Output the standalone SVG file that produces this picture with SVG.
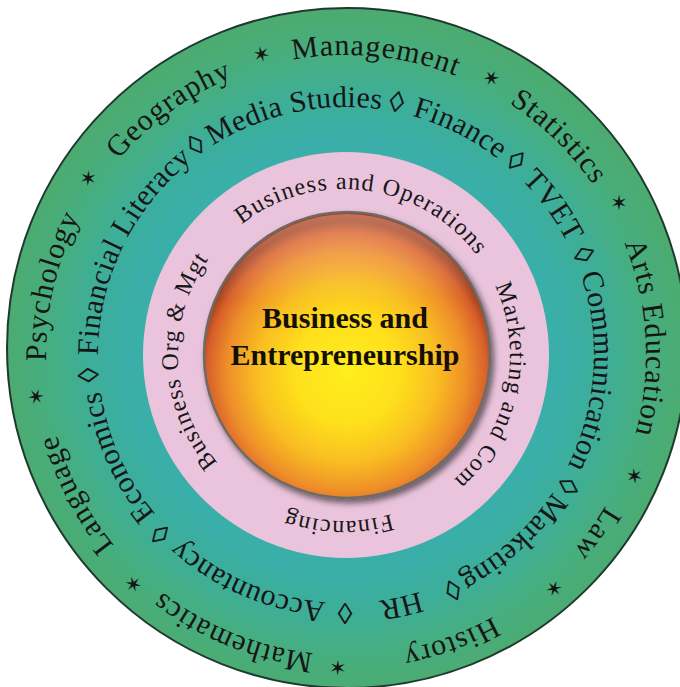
<svg xmlns="http://www.w3.org/2000/svg" xmlns:xlink="http://www.w3.org/1999/xlink" width="680" height="687" viewBox="0 0 680 687">
  <style>
    .ring { font-family: "Liberation Serif", "Times New Roman", serif; fill: #161616; }
    .big { font-size: 30px; letter-spacing: 1px; }
    .inner { font-size: 30px; letter-spacing: 0.3px; }
    .mid { font-size: 24px; letter-spacing: 1.2px; }
    .star { font-family: "DejaVu Sans", sans-serif; font-size: 21px; fill: #161616; }
    .core { font-family: "Liberation Serif", "Times New Roman", serif; font-weight: bold; font-size: 30px; fill: #141008; }
  </style>
  <defs>
    <radialGradient id="discFill" gradientUnits="userSpaceOnUse" cx="346" cy="355" r="340">
      <stop offset="0" stop-color="#3AAEAA"/>
      <stop offset="0.64" stop-color="#3AAEA8"/>
      <stop offset="0.76" stop-color="#3DAE98"/>
      <stop offset="0.88" stop-color="#46AE80"/>
      <stop offset="1" stop-color="#4CAB70"/>
    </radialGradient>
    <radialGradient id="sphereFill" gradientUnits="userSpaceOnUse" cx="347" cy="372" r="150">
      <stop offset="0" stop-color="#FFEE1C"/>
      <stop offset="0.35" stop-color="#FEE01C"/>
      <stop offset="0.6" stop-color="#F9BE22"/>
      <stop offset="0.8" stop-color="#EE8E2A"/>
      <stop offset="0.93" stop-color="#D8602A"/>
      <stop offset="1" stop-color="#9E4020"/>
    </radialGradient>
    <linearGradient id="sphereSheen" x1="0" y1="0" x2="0" y2="1">
      <stop offset="0" stop-color="#FFD0C0" stop-opacity="0.35"/>
      <stop offset="0.3" stop-color="#FFFFFF" stop-opacity="0"/>
    </linearGradient>
    <filter id="sphereShadow" x="-20%" y="-20%" width="140%" height="140%">
      <feDropShadow dx="3" dy="4" stdDeviation="3" flood-color="#000000" flood-opacity="0.55"/>
    </filter>
    <!-- two clockwise turns starting at 12 o'clock, so any angle has path before and after it -->
    <path id="outerPath" d="M346,55 A300,300 0 1,1 346,655 A300,300 0 1,1 346,55 A300,300 0 1,1 346,655 A300,300 0 1,1 346,55"/>
    <path id="starPath" d="M346,50 A305,305 0 1,1 346,660 A305,305 0 1,1 346,50 A305,305 0 1,1 346,660 A305,305 0 1,1 346,50"/>
    <path id="innerPath" d="M346,107 A248,248 0 1,1 346,603 A248,248 0 1,1 346,107 A248,248 0 1,1 346,603 A248,248 0 1,1 346,107"/>
    <path id="pinkPath" d="M344,189 A166,166 0 1,1 344,521 A166,166 0 1,1 344,189 A166,166 0 1,1 344,521 A166,166 0 1,1 344,189"/>
  </defs>

  <g id="disc">
    <circle cx="347" cy="348" r="340" fill="url(#discFill)" stroke="#1E3A2E" stroke-width="2"/>
  </g>

  <g id="ring-outer-subjects" class="ring big">
    <text><textPath xlink:href="#outerPath" href="#outerPath" startOffset="1914" text-anchor="middle">Management</textPath></text>
    <text><textPath xlink:href="#outerPath" href="#outerPath" startOffset="2116" text-anchor="middle">Statistics</textPath></text>
    <text><textPath xlink:href="#outerPath" href="#outerPath" startOffset="2338" text-anchor="middle">Arts Education</textPath></text>
    <text><textPath xlink:href="#outerPath" href="#outerPath" startOffset="657" text-anchor="middle">Law</textPath></text>
    <text><textPath xlink:href="#outerPath" href="#outerPath" startOffset="837" text-anchor="middle">History</textPath></text>
    <text><textPath xlink:href="#outerPath" href="#outerPath" startOffset="1058" text-anchor="middle">Mathematics</textPath></text>
    <text><textPath xlink:href="#outerPath" href="#outerPath" startOffset="1270" text-anchor="middle">Language</textPath></text>
    <text><textPath xlink:href="#outerPath" href="#outerPath" startOffset="1482" text-anchor="middle">Psychology</textPath></text>
    <text><textPath xlink:href="#outerPath" href="#outerPath" startOffset="1697" text-anchor="middle">Geography</textPath></text>
  </g>

  <g id="ring-outer-stars" class="star">
    <text><textPath xlink:href="#starPath" href="#starPath" startOffset="2063" text-anchor="middle">✶</textPath></text>
    <text><textPath xlink:href="#starPath" href="#starPath" startOffset="2239" text-anchor="middle">✶</textPath></text>
    <text><textPath xlink:href="#starPath" href="#starPath" startOffset="600" text-anchor="middle">✶</textPath></text>
    <text><textPath xlink:href="#starPath" href="#starPath" startOffset="736" text-anchor="middle">✶</textPath></text>
    <text><textPath xlink:href="#starPath" href="#starPath" startOffset="966" text-anchor="middle">✶</textPath></text>
    <text><textPath xlink:href="#starPath" href="#starPath" startOffset="1186" text-anchor="middle">✶</textPath></text>
    <text><textPath xlink:href="#starPath" href="#starPath" startOffset="1396" text-anchor="middle">✶</textPath></text>
    <text><textPath xlink:href="#starPath" href="#starPath" startOffset="1620" text-anchor="middle">✶</textPath></text>
    <text><textPath xlink:href="#starPath" href="#starPath" startOffset="1832" text-anchor="middle">✶</textPath></text>
  </g>

  <g id="ring-inner-subjects" class="ring inner">
    <text><textPath xlink:href="#innerPath" href="#innerPath" startOffset="1505" text-anchor="middle">Media Studies</textPath></text>
    <text><textPath xlink:href="#innerPath" href="#innerPath" startOffset="1607" text-anchor="middle">◊</textPath></text>
    <text><textPath xlink:href="#innerPath" href="#innerPath" startOffset="1673" text-anchor="middle">Finance</textPath></text>
    <text><textPath xlink:href="#innerPath" href="#innerPath" startOffset="1736" text-anchor="middle">◊</textPath></text>
    <text><textPath xlink:href="#innerPath" href="#innerPath" startOffset="1792" text-anchor="middle">TVET</textPath></text>
    <text><textPath xlink:href="#innerPath" href="#innerPath" startOffset="1848" text-anchor="middle">◊</textPath></text>
    <text><textPath xlink:href="#innerPath" href="#innerPath" startOffset="406" text-anchor="middle">Communication</textPath></text>
    <text><textPath xlink:href="#innerPath" href="#innerPath" startOffset="522" text-anchor="middle">◊</textPath></text>
    <text><textPath xlink:href="#innerPath" href="#innerPath" startOffset="598" text-anchor="middle">Marketing</textPath></text>
    <text><textPath xlink:href="#innerPath" href="#innerPath" startOffset="673" text-anchor="middle">◊</textPath></text>
    <text><textPath xlink:href="#innerPath" href="#innerPath" startOffset="725" text-anchor="middle">HR</textPath></text>
    <text><textPath xlink:href="#innerPath" href="#innerPath" startOffset="780" text-anchor="middle">◊</textPath></text>
    <text><textPath xlink:href="#innerPath" href="#innerPath" startOffset="880" text-anchor="middle">Accountancy</textPath></text>
    <text><textPath xlink:href="#innerPath" href="#innerPath" startOffset="978" text-anchor="middle">◊</textPath></text>
    <text><textPath xlink:href="#innerPath" href="#innerPath" startOffset="1064" text-anchor="middle">Economics</textPath></text>
    <text><textPath xlink:href="#innerPath" href="#innerPath" startOffset="1149" text-anchor="middle">◊</textPath></text>
    <text><textPath xlink:href="#innerPath" href="#innerPath" startOffset="1280" text-anchor="middle">Financial Literacy</textPath></text>
    <text><textPath xlink:href="#innerPath" href="#innerPath" startOffset="1404" text-anchor="middle">◊</textPath></text>
  </g>

  <g id="ring-pink">
    <circle cx="346" cy="355" r="203" fill="#EAC4DC"/>
    <g class="ring mid">
      <text><textPath xlink:href="#pinkPath" href="#pinkPath" startOffset="1065" text-anchor="middle">Business and Operations</textPath></text>
      <text><textPath xlink:href="#pinkPath" href="#pinkPath" startOffset="296" text-anchor="middle">Marketing and Com</textPath></text>
      <text><textPath xlink:href="#pinkPath" href="#pinkPath" startOffset="527" text-anchor="middle">Financing</textPath></text>
      <text><textPath xlink:href="#pinkPath" href="#pinkPath" startOffset="775" text-anchor="middle">Business Org &amp; Mgt</textPath></text>
    </g>
  </g>

  <g id="core">
    <circle cx="347" cy="355" r="143" fill="url(#sphereFill)" stroke="#6E6A66" stroke-width="2.5" filter="url(#sphereShadow)"/>
    <circle cx="347" cy="355" r="141" fill="url(#sphereSheen)"/>
    <text class="core" x="345" y="328" text-anchor="middle">Business and</text>
    <text class="core" x="345" y="365" text-anchor="middle">Entrepreneurship</text>
  </g>
</svg>
